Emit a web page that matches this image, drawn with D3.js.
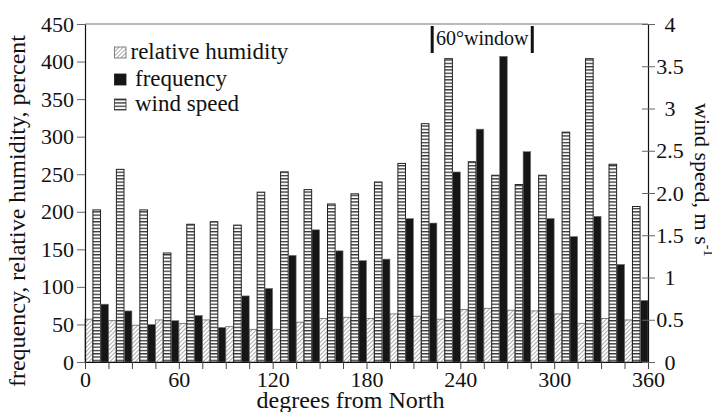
<!DOCTYPE html>
<html>
<head>
<meta charset="utf-8">
<script src="https://cdn.jsdelivr.net/npm/d3@7"></script>
<style>
  body { margin: 0; background: #fff; }
  svg { display: block; }
</style>
</head>
<body>
<script>
// bin start, degrees from North (15 degree bins)
var bins = [0, 15, 30, 45, 60, 75, 90, 105, 120, 135, 150, 165,
            180, 195, 210, 225, 240, 255, 270, 285, 300, 315, 330, 345];
// relative humidity, percent
var humidity = [57, 55, 49, 56, 51.5, 56, 47, 43.5, 43.5, 53, 58, 59.5,
                58, 64, 61, 57, 70, 71.5, 69, 68, 64, 51.5, 58, 56];
// frequency (counts)
var frequency = [77, 68, 50, 55, 62, 46, 88, 98, 142, 176, 148, 135,
                 137, 191, 185, 253, 310, 407, 280, 191, 167, 194, 130, 82];
// wind speed, m/s
var windSpeed = [1.80, 2.28, 1.80, 1.29, 1.63, 1.66, 1.62, 2.01, 2.25, 2.04, 1.87, 1.99,
                 2.13, 2.35, 2.82, 3.59, 2.37, 2.21, 2.10, 2.21, 2.72, 3.59, 2.34, 1.84];
var leftTicks = [0, 50, 100, 150, 200, 250, 300, 350, 400, 450];
var rightTicks = [0, 0.5, 1, 1.5, 2, 2.5, 3, 3.5, 4];
var xLabels = [0, 60, 120, 180, 240, 300, 360];
var windowRange = [222, 286];

var FONT = "Liberation Serif";
var width = 712, height = 412;
var margin = {top: 24, right: 64, bottom: 50, left: 85};

var svg = d3.select("body").append("svg")
    .attr("width", width)
    .attr("height", height);

var defs = svg.append("defs");
var hatch = defs.append("pattern")
    .attr("id", "hatch")
    .attr("patternUnits", "userSpaceOnUse")
    .attr("width", 3).attr("height", 3)
    .attr("patternTransform", "rotate(45)");
hatch.append("rect").attr("width", 3).attr("height", 3).attr("fill", "#fff");
hatch.append("line")
    .attr("x1", 0).attr("y1", 0).attr("x2", 0).attr("y2", 3)
    .attr("stroke", "#555").attr("stroke-width", 1);

var stripes = defs.append("pattern")
    .attr("id", "stripes")
    .attr("patternUnits", "userSpaceOnUse")
    .attr("width", 8).attr("height", 3.3);
stripes.append("rect").attr("width", 8).attr("height", 3.3).attr("fill", "#fff");
stripes.append("rect").attr("y", 0).attr("width", 8).attr("height", 1.3).attr("fill", "#333");

var x = d3.scaleLinear().domain([0, 360]).range([margin.left, width - margin.right]);
var yL = d3.scaleLinear().domain([0, 450]).range([height - margin.bottom, margin.top]);
var yR = d3.scaleLinear().domain([0, 4]).range([height - margin.bottom, margin.top]);

var binW = x(15) - x(0);
var sub = d3.scaleBand()
    .domain(["humidity", "wind", "frequency"])
    .range([0, binW])
    .paddingInner(0.04)
    .paddingOuter(0);

var rows = bins.map(function(b, i) {
    return {deg: b, humidity: humidity[i], frequency: frequency[i], wind: windSpeed[i]};
});

// top frame line
svg.append("line")
    .attr("x1", x(0)).attr("x2", x(360))
    .attr("y1", yL(450)).attr("y2", yL(450))
    .attr("stroke", "#777").attr("stroke-width", 1);

var g = svg.append("g");

g.selectAll(".hum").data(rows).enter().append("rect")
    .attr("class", "hum")
    .attr("x", function(d) { return x(d.deg) + sub("humidity"); })
    .attr("width", sub.bandwidth())
    .attr("y", function(d) { return yL(d.humidity); })
    .attr("height", function(d) { return yL(0) - yL(d.humidity); })
    .attr("fill", "url(#hatch)")
    .attr("stroke", "#666").attr("stroke-width", 0.8);

g.selectAll(".wind").data(rows).enter().append("rect")
    .attr("class", "wind")
    .attr("x", function(d) { return x(d.deg) + sub("wind"); })
    .attr("width", sub.bandwidth())
    .attr("y", function(d) { return yR(d.wind); })
    .attr("height", function(d) { return yR(0) - yR(d.wind); })
    .attr("fill", "url(#stripes)")
    .attr("stroke", "#222").attr("stroke-width", 1);

g.selectAll(".freq").data(rows).enter().append("rect")
    .attr("class", "freq")
    .attr("x", function(d) { return x(d.deg) + sub("frequency"); })
    .attr("width", sub.bandwidth())
    .attr("y", function(d) { return yL(d.frequency); })
    .attr("height", function(d) { return yL(0) - yL(d.frequency); })
    .attr("fill", "#161616")
    .attr("stroke", "#777").attr("stroke-width", 0.6);

// left axis
var leftAxis = svg.append("g")
    .attr("transform", "translate(" + x(0) + ",0)")
    .call(d3.axisLeft(yL).tickValues(leftTicks).tickSize(8).tickPadding(3).tickSizeOuter(0));

// bottom axis
var bottomAxis = svg.append("g")
    .attr("transform", "translate(0," + yL(0) + ")")
    .call(d3.axisBottom(x).tickValues(bins.concat([360])).tickSize(7).tickSizeOuter(0)
        .tickFormat(function(d) { return xLabels.indexOf(d) >= 0 ? d : ""; }));
bottomAxis.selectAll("text").attr("dy", null).attr("y", 25);

// right axis, ticks crossing the line
var rightAxis = svg.append("g")
    .attr("transform", "translate(" + x(360) + ",0)")
    .call(d3.axisRight(yR).tickValues(rightTicks).tickSize(7).tickSizeOuter(0)
        .tickFormat(function(d) { return d === 2 ? "2.0" : d; }));
rightAxis.selectAll(".tick line").attr("x1", -6).attr("stroke", "#666");
rightAxis.selectAll("text").attr("text-anchor", "middle").attr("x", 22);

[leftAxis, bottomAxis, rightAxis].forEach(function(a) {
    a.attr("font-family", FONT).attr("font-size", 22);
    a.select(".domain").attr("stroke", "#111").attr("stroke-width", 1.2);
    a.selectAll("text").attr("fill", "#111").attr("font-family", FONT).attr("font-size", 22);
});
leftAxis.selectAll(".tick line").attr("stroke", "#666");
bottomAxis.selectAll(".tick line").attr("stroke", "#444");

// axis titles
svg.append("text")
    .attr("x", x(180) - 16).attr("y", 408)
    .attr("text-anchor", "middle")
    .attr("font-family", FONT).attr("font-size", 24).attr("fill", "#111")
    .text("degrees from North");

svg.append("text")
    .attr("transform", "translate(25," + 211 + ") rotate(-90)")
    .attr("text-anchor", "middle")
    .attr("font-family", FONT).attr("font-size", 24).attr("fill", "#111")
    .text("frequency, relative humidity, percent");

var rt = svg.append("text")
    .attr("transform", "translate(695,103) rotate(90)")
    .attr("font-family", FONT).attr("font-size", 22).attr("fill", "#111")
    .text("wind speed, m s");
rt.append("tspan").attr("font-size", 14).attr("dy", -9).text("-1");

// legend
var legend = [
    {label: "relative humidity", fill: "url(#hatch)", stroke: "#666", y: 59, tx: 130.5},
    {label: "frequency", fill: "#161616", stroke: "#161616", y: 86, tx: 135},
    {label: "wind speed", fill: "url(#stripes)", stroke: "#333", y: 111, tx: 135}
];
var lg = svg.selectAll(".legend").data(legend).enter().append("g").attr("class", "legend");
lg.append("rect")
    .attr("x", 114.5).attr("y", function(d) { return d.y - 12; })
    .attr("width", 11.5).attr("height", 11)
    .attr("fill", function(d) { return d.fill; })
    .attr("stroke", function(d) { return d.stroke; }).attr("stroke-width", 0.8);
lg.append("text")
    .attr("x", function(d) { return d.tx; }).attr("y", function(d) { return d.y; })
    .attr("font-family", FONT).attr("font-size", 23).attr("fill", "#111")
    .text(function(d) { return d.label; });

// 60 degree window annotation
windowRange.forEach(function(w) {
    svg.append("line")
        .attr("x1", x(w)).attr("x2", x(w))
        .attr("y1", 26).attr("y2", 53)
        .attr("stroke", "#111").attr("stroke-width", 3);
});
svg.append("text")
    .attr("x", (x(windowRange[0]) + x(windowRange[1])) / 2).attr("y", 45)
    .attr("text-anchor", "middle")
    .attr("font-family", FONT).attr("font-size", 20).attr("fill", "#111")
    .text("60°window");
</script>
</body>
</html>
